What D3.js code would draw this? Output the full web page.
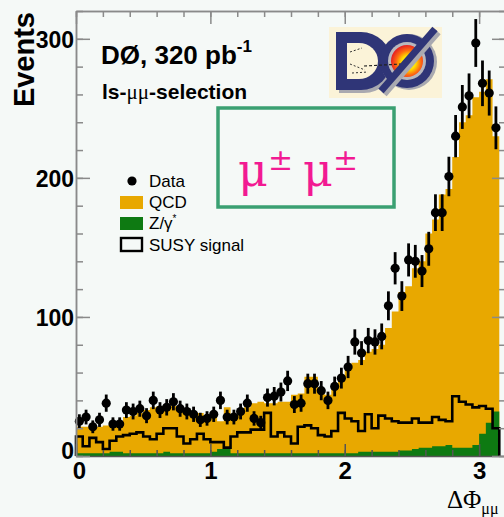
<!DOCTYPE html>
<html>
<head>
<meta charset="utf-8">
<script src="https://cdn.jsdelivr.net/npm/d3@7"></script>
<style>
html, body { margin: 0; padding: 0; background: #f5f9f7; }
svg { display: block; }
</style>
</head>
<body>
<svg id="chart" width="504" height="517"></svg>
<script>
// bins of delta phi (mu mu), width 0.05
const binWidth = 0.05
const nBins = 63

// observed events per bin
const data = [25, 28, 21, 26, 38, 23, 23, 33, 32, 34, 29, 40, 33, 35, 39, 34, 32, 30, 26, 27,
  30, 40, 28, 28, 32, 38, 27, 24, 42, 43, 46, 54, 37, 38, 52, 52, 47, 40, 50, 56,
  64, 82, 74, 83, 82, 86, 108, 135, 115, 141, 140, 133, 149, 175, 175, 201, 230, 251, 259, 297,
  268, 261, 236]
const dataErr = [5, 5.3, 4.6, 5.1, 6.2, 4.8, 4.8, 5.7, 5.7, 5.8, 5.4, 6.3, 5.7, 5.9, 6.2, 5.8, 5.7, 5.5, 5.1, 5.2,
  5.5, 6.3, 5.3, 5.3, 5.7, 6.2, 5.2, 4.9, 6.5, 6.6, 6.8, 7.3, 6.1, 6.2, 7.2, 7.2, 6.9, 6.3, 7.1, 7.5,
  8, 9.1, 8.6, 9.1, 9.1, 9.3, 10.4, 11.6, 10.7, 11.9, 11.8, 11.5, 12.2, 13.2, 13.2, 14.2, 15.2, 15.8, 16.1, 17.2,
  16.4, 16.2, 15.4]

// QCD background (stacked on top of Z/gamma*)
const qcd = [19, 19, 19, 19, 20, 22, 22, 26, 27, 29, 31, 33, 34, 32, 34, 32, 32, 30, 29, 27,
  26, 20, 30, 27, 29, 33, 36, 37, 36, 36, 37, 37, 42, 43, 55, 55, 43, 42, 46, 53,
  60, 65, 66, 72, 74, 77, 89, 101, 114, 118, 130, 134, 154, 163, 181, 184, 209, 234, 239, 250,
  246, 247, 198]
// Z/gamma* background
const zgamma = [2, 2, 2, 2, 2, 3, 3, 2, 2, 2, 2, 2, 2, 3, 2, 2, 2, 2, 2, 2,
  3, 5, 5, 2, 2, 2, 2, 2, 2, 2, 2, 2, 2, 2, 2, 2, 2, 2, 2, 2,
  2, 2, 3, 3, 3, 3, 3, 3, 4, 4, 5, 6, 6, 7, 7, 8, 6, 6, 6, 8,
  16, 24, 32]
// SUSY signal (not stacked)
const susy = [14, 7, 13, 10, 5, 11, 14, 15, 16, 17, 14, 12, 16, 20, 20, 14, 9, 12, 16, 12,
  10, 10, 6, 14, 17, 17, 19, 19, 31, 14, 17, 14, 9, 21, 22, 20, 15, 14, 18, 31,
  27, 25, 18, 30, 20, 29, 27, 25, 24, 24, 27, 24, 24, 28, 26, 25, 43, 39, 37, 35,
  36, 34, 20]

const xTicks = [0, 1, 2, 3]
const yTicks = [0, 100, 200, 300]
const legendItems = ["Data", "QCD", "Z/γ", "SUSY signal"]

const svg = d3.select('#chart')

const x = d3.scaleLinear().domain([0, 3.2]).range([76, 506])
const y = d3.scaleLinear().domain([0, 320]).range([456, 11])

const orange = '#e8a800'
const green = '#0e7a12'
const axisGrey = '#8a8a8a'

const edges = d3.range(nBins + 1).map(i => i * binWidth)
const bins = d3.range(nBins).map(i => ({
  lo: edges[i],
  mid: edges[i] + binWidth / 2,
  data: data[i],
  err: dataErr[i],
  z: zgamma[i],
  tot: zgamma[i] + qcd[i],
  susy: susy[i]
}))

// step points, last value repeated on the final edge
function stepPoints(key) {
  const pts = bins.map(b => [b.lo, b[key]])
  pts.push([edges[nBins], bins[nBins - 1][key]])
  return pts
}

const area = d3.area()
  .x(d => x(d[0]))
  .y0(y(0))
  .y1(d => y(d[1]))
  .curve(d3.curveStepAfter)

svg.append('rect')
  .attr('width', 504).attr('height', 517)
  .attr('fill', '#f5f9f7')

svg.append('path')
  .datum(stepPoints('tot'))
  .attr('d', area)
  .attr('fill', orange)

svg.append('path')
  .datum(stepPoints('z'))
  .attr('d', area)
  .attr('fill', green)

// SUSY outline
const susyPts = [[0, 0]].concat(stepPoints('susy'))
susyPts.push([edges[nBins], 0])
svg.append('path')
  .datum(susyPts)
  .attr('d', d3.line().x(d => x(d[0])).y(d => y(d[1])).curve(d3.curveStepAfter))
  .attr('fill', 'none')
  .attr('stroke', '#000')
  .attr('stroke-width', 2.6)

// data points with error bars
const pts = svg.append('g')
pts.selectAll('line')
  .data(bins)
  .join('line')
  .attr('x1', d => x(d.mid)).attr('x2', d => x(d.mid))
  .attr('y1', d => y(d.data - d.err)).attr('y2', d => Math.max(y(d.data + d.err), y(320)))
  .attr('stroke', '#000')
  .attr('stroke-width', 2.8)
pts.selectAll('circle')
  .data(bins)
  .join('circle')
  .attr('cx', d => x(d.mid))
  .attr('cy', d => y(d.data))
  .attr('r', 4.6)
  .attr('fill', '#000')

// axes: ticks pointing inward on all four sides
const minorX = d3.range(0, 3.21, 0.2)
const minorY = d3.range(0, 321, 20)

function styleAxis(g, col) {
  g.selectAll('text').remove()
  g.select('.domain').attr('stroke', col).attr('stroke-width', 1.5)
  g.selectAll('.tick line').attr('stroke', col).attr('stroke-width', 1.5)
}

svg.append('g').attr('transform', 'translate(0,11)')
  .call(d3.axisBottom(x).tickValues(minorX).tickSize(6).tickSizeOuter(0))
  .call(g => styleAxis(g, axisGrey))
svg.append('g').attr('transform', 'translate(0,11)')
  .call(d3.axisBottom(x).tickValues(xTicks).tickSize(13).tickSizeOuter(0))
  .call(g => styleAxis(g, axisGrey))

svg.append('g').attr('transform', 'translate(0,' + y(0) + ')')
  .call(d3.axisTop(x).tickValues(minorX).tickSize(6).tickSizeOuter(0))
  .call(g => styleAxis(g, '#555'))
svg.append('g').attr('transform', 'translate(0,' + y(0) + ')')
  .call(d3.axisTop(x).tickValues(xTicks).tickSize(12).tickSizeOuter(0))
  .call(g => styleAxis(g, '#555'))
  .call(g => g.select('.domain').remove())

svg.append('g').attr('transform', 'translate(76,0)')
  .call(d3.axisRight(y).tickValues(minorY).tickSize(7).tickSizeOuter(0))
  .call(g => styleAxis(g, axisGrey))
svg.append('g').attr('transform', 'translate(76,0)')
  .call(d3.axisRight(y).tickValues(yTicks).tickSize(14).tickSizeOuter(0))
  .call(g => styleAxis(g, axisGrey))

svg.append('g').attr('transform', 'translate(506,0)')
  .call(d3.axisLeft(y).tickValues(minorY).tickSize(7).tickSizeOuter(0))
  .call(g => styleAxis(g, axisGrey))
svg.append('g').attr('transform', 'translate(506,0)')
  .call(d3.axisLeft(y).tickValues(yTicks).tickSize(14).tickSizeOuter(0))
  .call(g => styleAxis(g, axisGrey))

// tick labels
const labelFont = "'Liberation Sans', Arial, sans-serif"
svg.append('g').attr('transform', 'translate(74,0)')
  .call(d3.axisLeft(y).tickValues(yTicks).tickFormat(d3.format('d')).tickSize(0).tickPadding(0))
  .call(g => g.select('.domain').remove())
  .call(g => g.selectAll('text')
    .attr('font-family', labelFont).attr('font-weight', 'bold')
    .attr('font-size', 23).attr('fill', '#000')
    .attr('dy', d => d === 0 ? '0.1em' : '0.36em'))

svg.append('g').attr('transform', 'translate(0,461)')
  .call(d3.axisBottom(x).tickValues(xTicks).tickFormat(d3.format('d')).tickSize(0).tickPadding(0))
  .call(g => g.select('.domain').remove())
  .call(g => g.selectAll('text')
    .attr('font-family', labelFont).attr('font-weight', 'bold')
    .attr('font-size', 24).attr('fill', '#000').attr('dy', '0.75em')
    .attr('dx', d => d === 0 ? 3 : 0))

// axis titles
svg.append('text')
  .attr('transform', 'translate(34,12) rotate(-90)')
  .attr('text-anchor', 'end')
  .attr('font-family', labelFont).attr('font-weight', 'bold')
  .attr('font-size', 29)
  .text('Events')

const xt = svg.append('text')
  .attr('x', 447).attr('y', 508)
  .attr('font-family', "'Liberation Serif', 'Times New Roman', serif")
  .attr('font-size', 25)
xt.append('tspan').text('ΔΦ')
xt.append('tspan').attr('font-size', 16).attr('dy', 6).text('μμ')

// experiment label
const t1 = svg.append('text')
  .attr('x', 101).attr('y', 64)
  .attr('font-family', labelFont).attr('font-weight', 'bold')
  .attr('font-size', 26)
t1.append('tspan').text('DØ, 320 pb')
t1.append('tspan').attr('font-size', 17).attr('dy', -12).text('-1')

const t2 = svg.append('text')
  .attr('x', 102).attr('y', 99)
  .attr('font-family', labelFont).attr('font-weight', 'bold')
  .attr('font-size', 21)
t2.append('tspan').text('ls-')
t2.append('tspan').attr('font-weight', 'normal').attr('font-family', "'Liberation Serif', serif").text('μμ')
t2.append('tspan').text('-selection')

// legend
const leg = svg.append('g')
  .attr('font-family', labelFont).attr('font-size', 17)
leg.append('circle').attr('cx', 132).attr('cy', 181).attr('r', 4.6).attr('fill', '#000')
leg.append('rect').attr('x', 120).attr('y', 196).attr('width', 23).attr('height', 13).attr('fill', orange)
leg.append('rect').attr('x', 120).attr('y', 217).attr('width', 23).attr('height', 13).attr('fill', green)
leg.append('rect').attr('x', 121).attr('y', 238).attr('width', 21).attr('height', 13)
  .attr('fill', 'none').attr('stroke', '#000').attr('stroke-width', 2.4)
const legY = [187, 208, 229, 251]
legendItems.forEach((name, i) => {
  const t = leg.append('text').attr('x', 149).attr('y', legY[i]).text(name)
  if (i === 2) t.append('tspan').attr('font-size', 10).attr('dy', -7).text('*')
})

// charge box
svg.append('rect')
  .attr('x', 218).attr('y', 108).attr('width', 176).attr('height', 99)
  .attr('fill', 'none').attr('stroke', '#3aa072').attr('stroke-width', 3.5)
const mu = svg.append('text')
  .attr('x', 238).attr('y', 186)
  .attr('font-family', "'DejaVu Serif', serif")
  .attr('font-size', 46).attr('fill', '#f21a92')
mu.append('tspan').text('μ')
mu.append('tspan').attr('font-size', 30).attr('dy', -16).text('±')
mu.append('tspan').attr('dy', 16).attr('dx', 10).text('μ')
mu.append('tspan').attr('font-size', 30).attr('dy', -16).text('±')

// DØ logo
const defs = svg.append('defs')
const grad = defs.append('radialGradient').attr('id', 'fire')
  .attr('cx', '55%').attr('cy', '55%').attr('r', '55%')
grad.append('stop').attr('offset', '0%').attr('stop-color', '#ffff66')
grad.append('stop').attr('offset', '40%').attr('stop-color', '#ffe000')
grad.append('stop').attr('offset', '70%').attr('stop-color', '#ff6a10')
grad.append('stop').attr('offset', '100%').attr('stop-color', '#e62222')

const logo = svg.append('g')
const navy = '#2f3577'
logo.append('rect').attr('x', 329).attr('y', 27).attr('width', 113).attr('height', 71).attr('fill', '#fbf3d8')
logo.append('path').attr('d', 'M339,35 H364 A30,29 0 0 1 364,93 H339 Z').attr('fill', '#a9a9b0')
logo.append('path').attr('d', 'M336,32 H361 A30,29 0 0 1 361,90 H336 Z').attr('fill', navy)
logo.append('path').attr('d', 'M347,43 H359 A19,18 0 0 1 359,79 H347 Z').attr('fill', '#fbf3d8')
logo.append('path').attr('d', 'M350,52 L362,48 M350,64 L365,70 M352,73 L368,72')
  .attr('stroke', '#333').attr('stroke-width', 1).attr('stroke-dasharray', '2,2').attr('fill', 'none')
logo.append('circle').attr('cx', 409).attr('cy', 62).attr('r', 28).attr('fill', '#a9a9b0')
logo.append('circle').attr('cx', 407).attr('cy', 61).attr('r', 27).attr('fill', navy)
logo.append('circle').attr('cx', 407).attr('cy', 61).attr('r', 19).attr('fill', '#b8b8be')
logo.append('circle').attr('cx', 407).attr('cy', 61).attr('r', 16).attr('fill', 'url(#fire)')
logo.append('line').attr('x1', 364).attr('y1', 66).attr('x2', 402).attr('y2', 64)
  .attr('stroke', '#222').attr('stroke-width', 1.2).attr('stroke-dasharray', '3,2')
logo.append('line').attr('x1', 438).attr('y1', 32).attr('x2', 384).attr('y2', 94)
  .attr('stroke', '#a9a9b0').attr('stroke-width', 7)
logo.append('line').attr('x1', 435).attr('y1', 29).attr('x2', 381).attr('y2', 91)
  .attr('stroke', navy).attr('stroke-width', 7)
</script>
</body>
</html>
